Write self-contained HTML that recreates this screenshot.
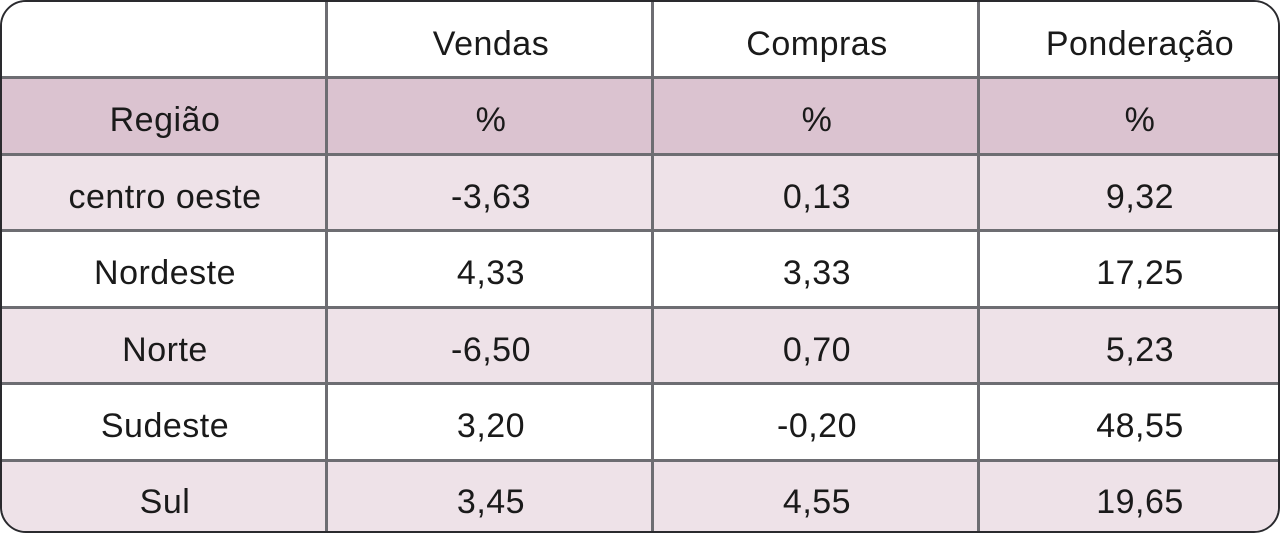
<!DOCTYPE html>
<html><head><style>
body{margin:0;width:1280px;height:533px;background:#fff;overflow:hidden;font-family:"Liberation Sans",sans-serif;}
.wrap{position:absolute;left:0;top:0;width:1276px;height:529px;border:2px solid #2a2a2e;border-radius:26px;overflow:hidden;background:#fff;}
.r{position:absolute;left:0;width:1280px;}
.c{position:absolute;top:0;height:100%;box-sizing:border-box;padding-top:8px;display:flex;align-items:center;justify-content:center;font-size:34px;color:#1a1a1a;letter-spacing:0.5px;}
.h{position:absolute;left:0;width:1280px;height:3px;background:#6d6d72;}
.v{position:absolute;top:0;width:3px;height:533px;background:#6d6d72;}
</style></head><body>
<div class="wrap">
<div class="r" style="top:0;height:76px;background:#fff"><div class="c" style="left:326px;width:326px">Vendas</div><div class="c" style="left:652px;width:326px">Compras</div><div class="c" style="left:988px;width:300px">Ponderação</div></div>
<div class="r" style="top:76px;height:77px;background:#dbc3d0"><div class="c" style="left:0;width:326px">Região</div><div class="c" style="left:326px;width:326px">%</div><div class="c" style="left:652px;width:326px">%</div><div class="c" style="left:988px;width:300px">%</div></div>
<div class="r" style="top:153px;height:76px;background:#eee2e8"><div class="c" style="left:0;width:326px">centro oeste</div><div class="c" style="left:326px;width:326px">-3,63</div><div class="c" style="left:652px;width:326px">0,13</div><div class="c" style="left:988px;width:300px">9,32</div></div>
<div class="r" style="top:229px;height:77px;background:#fff"><div class="c" style="left:0;width:326px">Nordeste</div><div class="c" style="left:326px;width:326px">4,33</div><div class="c" style="left:652px;width:326px">3,33</div><div class="c" style="left:988px;width:300px">17,25</div></div>
<div class="r" style="top:306px;height:76px;background:#eee2e8"><div class="c" style="left:0;width:326px">Norte</div><div class="c" style="left:326px;width:326px">-6,50</div><div class="c" style="left:652px;width:326px">0,70</div><div class="c" style="left:988px;width:300px">5,23</div></div>
<div class="r" style="top:382px;height:77px;background:#fff"><div class="c" style="left:0;width:326px">Sudeste</div><div class="c" style="left:326px;width:326px">3,20</div><div class="c" style="left:652px;width:326px">-0,20</div><div class="c" style="left:988px;width:300px">48,55</div></div>
<div class="r" style="top:459px;height:74px;background:#eee2e8"><div class="c" style="left:0;width:326px">Sul</div><div class="c" style="left:326px;width:326px">3,45</div><div class="c" style="left:652px;width:326px">4,55</div><div class="c" style="left:988px;width:300px">19,65</div></div>
<div class="h" style="top:74px"></div><div class="h" style="top:151px"></div><div class="h" style="top:227px"></div><div class="h" style="top:304px"></div><div class="h" style="top:380px"></div><div class="h" style="top:457px"></div>
<div class="v" style="left:323px"></div><div class="v" style="left:649px"></div><div class="v" style="left:975px"></div>
</div>
</body></html>
